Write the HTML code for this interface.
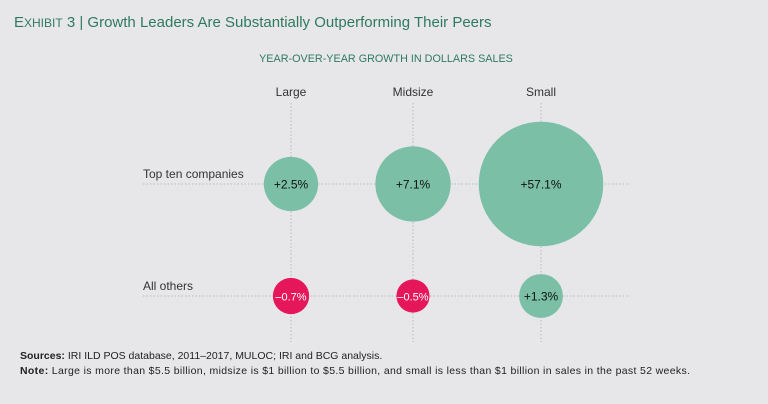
<!DOCTYPE html>
<html><head><meta charset="utf-8"><style>
body{margin:0;width:768px;height:404px;background:#e7e7e9;font-family:"Liberation Sans",sans-serif;overflow:hidden}
svg{position:absolute;left:0;top:0}
</style></head><body>
<svg width="768" height="404" id="chart">
<text x="14" y="27" font-size="15" fill="#2f7a5e"><tspan font-size="15">E</tspan><tspan font-size="12">XHIBIT</tspan> 3 | Growth Leaders Are Substantially Outperforming Their Peers</text>
<text x="386" y="62" font-size="10.8" fill="#2f7a5e" text-anchor="middle">YEAR-OVER-YEAR GROWTH IN DOLLARS SALES</text>
<text x="20" y="359" font-size="10.5" fill="#222"><tspan font-weight="bold">Sources:</tspan> IRI ILD POS database, 2011–2017, MULOC; IRI and BCG analysis.</text>
<text x="20" y="374" font-size="10.5" fill="#222" textLength="670"><tspan font-weight="bold">Note:</tspan> Large is more than $5.5 billion, midsize is $1 billion to $5.5 billion, and small is less than $1 billion in sales in the past 52 weeks.</text>
</svg>
<script>
const columns=["Large","Midsize","Small"];
const rows=["Top ten companies","All others"];
const topValues=[2.5,7.1,57.1];
const otherValues=[-0.7,-0.5,1.3];
const labelsTop=["+2.5%","+7.1%","+57.1%"];
const labelsOther=["\u20130.7%","\u20130.5%","+1.3%"];
const NS="http://www.w3.org/2000/svg";
const svg=document.getElementById('chart');
const colX=i=>[291,413,541][i];
const rowY=j=>184+j*112;
const rScale=v=>11.5+12.5*Math.log(1+Math.abs(v));
function mk(t,a){const e=document.createElementNS(NS,t);for(const k in a)e.setAttribute(k,a[k]);svg.appendChild(e);return e;}
columns.forEach((c,i)=>{
  const l=mk('line',{x1:colX(i),x2:colX(i),y1:103,y2:342,stroke:'#b8b8bc','stroke-dasharray':'1.5,2','stroke-width':1});
  
  
  const t=mk('text',{x:colX(i),y:96,'font-size':12,fill:'#333','text-anchor':'middle'});t.textContent=c;
  
  
});
rows.forEach((r,j)=>{
  const l=mk('line',{x1:143,x2:630,y1:rowY(j),y2:rowY(j),stroke:'#b8b8bc','stroke-dasharray':'1.5,2','stroke-width':1});
  
  
  const t=mk('text',{x:143,y:rowY(j)-6,'font-size':12,fill:'#333'});t.textContent=r;
  
  
});
[[topValues,labelsTop],[otherValues,labelsOther]].forEach(([vals,labs],j)=>{
  vals.forEach((v,i)=>{
    const c=mk('circle',{cx:colX(i),cy:rowY(j),r:rScale(v),fill:v>=0?'#7bbfa7':'#e5175a'});
    
    
    const t=mk('text',{x:colX(i),y:rowY(j)+4.5,'font-size':v>=0?12:11,fill:v>=0?'#111':'#fff','text-anchor':'middle'});t.textContent=labs[i];
    
    
  });
});
</script>
</body></html>
